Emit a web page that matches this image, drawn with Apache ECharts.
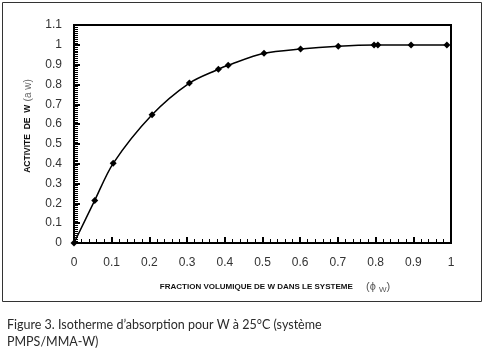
<!DOCTYPE html>
<html>
<head>
<meta charset="utf-8">
<script src="https://cdn.jsdelivr.net/npm/echarts@6/dist/echarts.min.js"></script>
<style>
  html, body { margin: 0; padding: 0; background: #fff; }
  #chart { width: 487px; height: 355px; }
</style>
</head>
<body>
<div id="chart"></div>
<script>
// fraction volumique de W (phi w) et activite de W (a w)
var fractionW = [0, 0.055, 0.104, 0.207, 0.306, 0.383, 0.409, 0.504, 0.601, 0.701, 0.796, 0.806, 0.894, 0.989];
var activiteW = [0, 0.215, 0.402, 0.647, 0.807, 0.877, 0.897, 0.957, 0.979, 0.993, 0.999, 0.999, 0.999, 0.999];

var xTicks = { min: 0, max: 1, interval: 0.1 };
var yTicks = { min: 0, max: 1.1, interval: 0.1 };

var FontColor = '#333';
var pts = [];
for (var i = 0; i < fractionW.length; i++) {
    pts.push([fractionW[i], activiteW[i]]);
}

var option = {
    animation: false,
    title: {
        text: 'Figure 3. Isotherme d\u2019absorption pour W \u00e0 25\u00b0C (syst\u00e8me\nPMPS/MMA-W)',
        left: 2,
        top: 311,
        textStyle: {
            fontFamily: 'Lato',
            fontSize: 12.5,
            fontWeight: 'normal',
            color: '#2a2a2a',
            lineHeight: 17
        }
    },
    graphic: [{
        type: 'rect',
        z: -10,
        silent: true,
        shape: { x: 2.5, y: 2.5, width: 479, height: 299 },
        style: { fill: 'transparent', stroke: '#333', lineWidth: 1 }
    }],
    grid: {
        left: 74,
        right: 36,
        top: 25,
        bottom: 112,
        show: true,
        borderColor: '#000',
        borderWidth: 2
    },
    xAxis: {
        type: 'value',
        min: xTicks.min,
        max: xTicks.max,
        interval: xTicks.interval,
        splitLine: { show: false },
        axisLine: { show: true, lineStyle: { color: '#000', width: 2 } },
        axisTick: { show: true, length: 6, inside: true, lineStyle: { color: '#000', width: 2 } },
        minorTick: { show: true, splitNumber: 5, length: 4, lineStyle: { color: '#000', width: 1 } },
        axisLabel: { margin: 14, color: FontColor, fontFamily: 'Liberation Sans', fontSize: 12 },
        name: '{b|FRACTION VOLUMIQUE DE W DANS LE SYSTEME}    {n|(\u03d5 }{s|W}{n|)}',
        nameLocation: 'middle',
        nameGap: 37,
        nameTextStyle: {
            padding: [0, 0, 0, 25],
            rich: {
                b: { fontFamily: 'Liberation Sans Narrow, Liberation Sans', fontWeight: 'bold', fontSize: 8, color: '#111' },
                n: { fontFamily: 'Liberation Sans', fontSize: 11, color: '#555' },
                s: { fontFamily: 'Liberation Sans', fontSize: 8, color: '#555', padding: [6, 0, 0, 0] }
            }
        }
    },
    yAxis: {
        type: 'value',
        min: yTicks.min,
        max: yTicks.max,
        interval: yTicks.interval,
        splitLine: { show: false },
        axisLine: { show: true, lineStyle: { color: '#000', width: 2 } },
        axisTick: { show: true, length: 6, inside: true, lineStyle: { color: '#000', width: 2 } },
        minorTick: { show: true, splitNumber: 10, length: 4, lineStyle: { color: '#000', width: 1 } },
        axisLabel: { margin: 12, color: FontColor, fontFamily: 'Liberation Sans', fontSize: 12 },
        name: '{b|ACTIVITE  DE  W} {n|(a w)}',
        nameLocation: 'middle',
        nameRotate: 90,
        nameGap: 40,
        nameTextStyle: {
            padding: [0, 0, 0, 16],
            rich: {
                b: { fontFamily: 'Liberation Sans Narrow, Liberation Sans', fontWeight: 'bold', fontSize: 8.5, color: '#111' },
                n: { fontFamily: 'Liberation Sans', fontSize: 10, color: '#666' }
            }
        }
    },
    series: [{
        type: 'line',
        data: pts,
        smooth: 0.3,
        symbol: 'diamond',
        symbolSize: 7,
        lineStyle: { color: '#000', width: 1.5 },
        itemStyle: { color: '#000' }
    }]
};

var chart = echarts.init(document.getElementById('chart'));
chart.setOption(option);
</script>
</body>
</html>
